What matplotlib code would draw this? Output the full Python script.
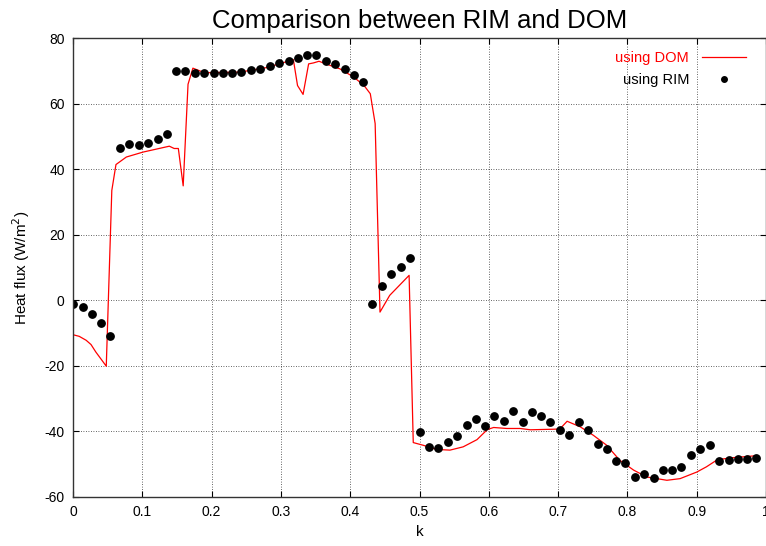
import matplotlib
matplotlib.use("Agg")
import matplotlib.pyplot as plt

plt.rcParams['font.family'] = ['Liberation Sans', 'DejaVu Sans']
plt.rcParams['axes.unicode_minus'] = False

# RIM results (dots)
k_rim = [0.000, 0.014, 0.027, 0.041, 0.054, 0.068, 0.081, 0.095, 0.108, 0.122,
         0.135, 0.149, 0.162, 0.176, 0.189, 0.203, 0.216, 0.230, 0.243, 0.257,
         0.270, 0.284, 0.297, 0.311, 0.324, 0.338, 0.351, 0.365, 0.378, 0.392,
         0.405, 0.419, 0.432, 0.446, 0.459, 0.473, 0.486, 0.500, 0.514, 0.527,
         0.541, 0.554, 0.568, 0.581, 0.595, 0.608, 0.622, 0.635, 0.649, 0.662,
         0.676, 0.689, 0.703, 0.716, 0.730, 0.743, 0.757, 0.770, 0.784, 0.797,
         0.811, 0.824, 0.838, 0.851, 0.865, 0.878, 0.892, 0.905, 0.919, 0.932,
         0.946, 0.959, 0.973, 0.986]
q_rim = [-1.2, -2.0, -4.1, -6.9, -10.9, 46.4, 47.8, 47.3, 48.1, 49.2,
         50.7, 69.9, 69.8, 69.4, 69.3, 69.3, 69.3, 69.3, 69.7, 70.1,
         70.5, 71.5, 72.4, 73.1, 73.9, 74.7, 74.8, 73.1, 72.0, 70.5,
         68.6, 66.6, -1.1, 4.4, 7.9, 10.2, 12.8, -40.1, -44.7, -45.0,
         -43.1, -41.3, -37.9, -36.2, -38.3, -35.2, -36.9, -33.7, -37.2, -34.2,
         -35.2, -37.0, -39.6, -41.2, -37.2, -39.6, -43.9, -45.3, -48.9, -49.7,
         -53.8, -53.0, -54.2, -51.7, -51.7, -51.0, -47.3, -45.5, -44.0, -49.0,
         -48.8, -48.5, -48.3, -48.1]

# DOM results (line)
k_dom = [0.000, 0.009, 0.019, 0.026, 0.033, 0.040, 0.048, 0.056, 0.062, 0.077,
         0.101, 0.139, 0.146, 0.152, 0.159, 0.166, 0.173, 0.190, 0.241, 0.280,
         0.318, 0.324, 0.332, 0.340, 0.347, 0.355, 0.365, 0.385, 0.405, 0.420,
         0.429, 0.436, 0.443, 0.457, 0.485, 0.491, 0.505, 0.525, 0.544, 0.563,
         0.583, 0.598, 0.607, 0.626, 0.645, 0.660, 0.698, 0.701, 0.713, 0.732,
         0.751, 0.770, 0.789, 0.809, 0.828, 0.857, 0.876, 0.900, 0.914, 0.930,
         0.953, 0.986]
q_dom = [-10.5, -11.0, -12.2, -13.5, -15.8, -17.8, -20.1, 33.5, 41.4, 43.7,
         45.2, 47.0, 46.3, 46.3, 34.9, 65.9, 70.8, 69.4, 69.6, 71.0,
         73.4, 65.5, 62.8, 72.1, 72.4, 72.9, 72.1, 70.6, 68.1, 65.5,
         63.0, 53.9, -3.6, 1.5, 7.6, -43.4, -44.2, -45.5, -45.7, -44.7,
         -42.5, -39.4, -38.8, -39.1, -39.1, -39.5, -39.3, -39.6, -36.9, -38.6,
         -41.2, -44.2, -48.8, -51.8, -53.9, -54.9, -54.4, -52.4, -50.8, -48.6,
         -48.0, -47.4]

xticks = [0, 0.1, 0.2, 0.3, 0.4, 0.5, 0.6, 0.7, 0.8, 0.9, 1]
xticklabels = ['0', '0.1', '0.2', '0.3', '0.4', '0.5', '0.6', '0.7', '0.8', '0.9', '1']
yticks = [-60, -40, -20, 0, 20, 40, 60, 80]

fig = plt.figure(figsize=(7.66, 5.46), dpi=100)
ax = fig.add_axes([73 / 766, 49 / 546, 693 / 766, 459 / 546])

ax.plot(k_dom, q_dom, color='red', lw=0.9, label='using DOM')
ax.plot(k_rim, q_rim, 'o', color='black', ms=5.3, label='using RIM')

ax.set_xlim(0, 1)
ax.set_ylim(-60, 80)
ax.set_xticks(xticks)
ax.set_xticklabels(xticklabels)
ax.set_yticks(yticks)
ax.tick_params(direction='in', top=True, right=True, length=4, width=0.8,
               labelsize=10, pad=6)
ax.grid(True, color='black', linestyle=(0, (1, 2)), linewidth=0.6, alpha=0.8)
for s in ax.spines.values():
    s.set_linewidth(1.0)
    s.set_color('#333333')

ax.set_title('Comparison between RIM and DOM', fontsize=18.5, pad=7)
ax.set_xlabel('k', fontsize=11, labelpad=4)
ax.set_ylabel('Heat flux (W/m$^2$)', fontsize=11, labelpad=9)

leg = ax.legend(loc='upper right', bbox_to_anchor=(0.99, 1.0), frameon=False,
                markerfirst=False, fontsize=10.5, handlelength=3.0,
                labelspacing=0.55, handletextpad=0.9, markerscale=0.75)
leg.get_texts()[0].set_color('red')
leg.get_texts()[1].set_color('black')

fig.savefig('out.png', dpi=100)
